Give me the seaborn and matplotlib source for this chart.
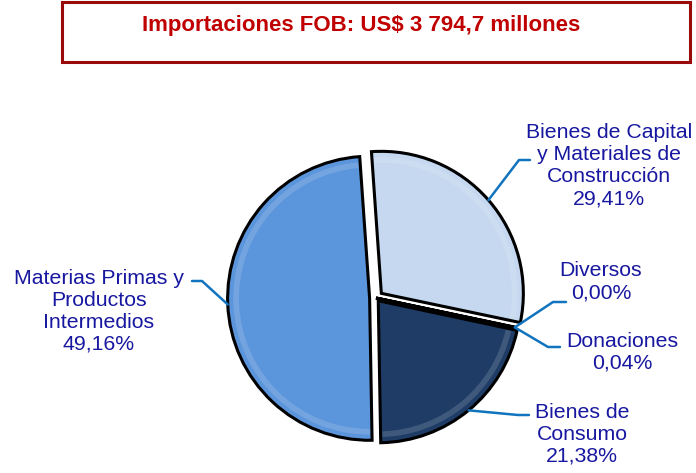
import matplotlib
matplotlib.use("Agg")
import matplotlib.pyplot as plt
from matplotlib.lines import Line2D
from matplotlib.patches import Rectangle
import numpy as np
import seaborn as sns

# data
categories = ["Bienes de Capital\ny Materiales de\nConstrucción", "Diversos", "Donaciones",
              "Bienes de\nConsumo", "Materias Primas y\nProductos\nIntermedios"]
shares = [29.41, 0.00, 0.04, 21.38, 49.16]
pct_labels = ["29,41%", "0,00%", "0,04%", "21,38%", "49,16%"]
title = "Importaciones FOB: US$ 3 794,7 millones"

# styling
colors = ["#C5D8EF", "#FFFFFF", "#FFFFFF", "#1E3C66", "#5B95DB"]
explode = [0.05, 0.0, 0.0, 0.025, 0.045]
text_color = "#1717A0"
line_color = "#1274BE"

# label layout, pixels from the top-left corner: text centre, stub end, elbow
label_pos = [(609, 166), (601, 282), (622, 352), (582, 434), (99, 311)]
stubs = [((530, 160), (519, 160)), ((566, 302), (553, 302)), ((560, 347), (548, 347)),
         ((529, 415), (518, 415)), ((192, 281), (202, 281))]

sns.set_style("white")
plt.rcParams["font.family"] = ["Liberation Sans", "DejaVu Sans"]

W, H = 696, 473
fig = plt.figure(figsize=(W / 100, H / 100), dpi=100)

# title box
fig.add_artist(Rectangle((62 / W, 1 - 62 / H), (690 - 62) / W, 60 / H, transform=fig.transFigure,
                         facecolor="white", edgecolor="#990A0A", linewidth=2.2))
fig.text(361 / W, 1 - 25 / H, title, ha="center", va="center", fontsize=16, fontweight="bold",
         color="#C00000")

# pie
R = 142
cx, cy = 376, 298
aw, ah = 426, 340
ax = fig.add_axes([(cx - aw / 2) / W, (H - cy - ah / 2) / H, aw / W, ah / H])
wedges, _ = ax.pie(shares, colors=colors, explode=explode, startangle=94, counterclock=False,
                   wedgeprops=dict(edgecolor="black", linewidth=2.2))
ax.set_xlim(-aw / 2 / R, aw / 2 / R)
ax.set_ylim(-ah / 2 / R, ah / 2 / R)
ax.set_aspect("auto")
ax.axis("off")

# soft inner highlight for a bevelled look
for w in wedges:
    if w.theta2 - w.theta1 < 1:
        continue
    hl = matplotlib.patches.Wedge(w.center, w.r * 0.96, w.theta1 + 0.8, w.theta2 - 0.8,
                                  width=0.04, facecolor="white", alpha=0.15, edgecolor="none")
    ax.add_patch(hl)

# labels with leader lines
for w, cat, pct, pos, (stub, elbow) in zip(wedges, categories, pct_labels, label_pos, stubs):
    fig.text(pos[0] / W, 1 - pos[1] / H, cat + "\n" + pct, ha="center", va="center",
             multialignment="center", fontsize=15.3, color=text_color, linespacing=1.2)
    mid = np.deg2rad((w.theta1 + w.theta2) / 2)
    ex, ey = w.center[0] + w.r * np.cos(mid), w.center[1] + w.r * np.sin(mid)
    px, py = ax.transData.transform((ex, ey))
    xs = [stub[0] / W, elbow[0] / W, px / W]
    ys = [1 - stub[1] / H, 1 - elbow[1] / H, py / H]
    fig.add_artist(Line2D(xs, ys, transform=fig.transFigure, color=line_color, linewidth=1.8))

fig.savefig("out.png", dpi=100)
